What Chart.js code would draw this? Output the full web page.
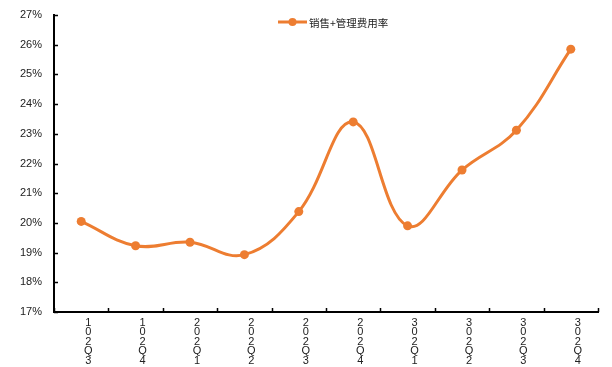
<!DOCTYPE html>
<html>
<head>
<meta charset="utf-8">
<script src="https://cdn.jsdelivr.net/npm/chart.js@4/dist/chart.umd.min.js"></script>
<style>
  body { margin: 0; background: #fff; }
  #wrap { width: 612px; height: 367px; }
</style>
</head>
<body>
<div id="wrap"><canvas id="rateChart" width="612" height="367"></canvas></div>
<script>
// quarter labels, one character per line
var quarters = [
    ['1', '0', '2', 'Q', '3'],
    ['1', '0', '2', 'Q', '4'],
    ['2', '0', '2', 'Q', '1'],
    ['2', '0', '2', 'Q', '2'],
    ['2', '0', '2', 'Q', '3'],
    ['2', '0', '2', 'Q', '4'],
    ['3', '0', '2', 'Q', '1'],
    ['3', '0', '2', 'Q', '2'],
    ['3', '0', '2', 'Q', '3'],
    ['3', '0', '2', 'Q', '4']
];
var expenseRate = [20.05, 19.23, 19.35, 18.93, 20.38, 23.4, 19.9, 21.78, 23.12, 25.85];
var seriesName = '销售+管理费用率';
var yMin = 17, yMax = 27, yStep = 1;

var lineColor = '#ED7D31';

// legend drawn inside the plot, centred near the top
var topLegend = {
    id: 'topLegend',
    afterDraw: function(chart) {
        var c = chart.ctx;
        var ds = chart.data.datasets[0];
        var x0 = 278, y0 = 22;
        c.save();
        c.strokeStyle = ds.borderColor;
        c.lineWidth = 3;
        c.beginPath();
        c.moveTo(x0, y0);
        c.lineTo(x0 + 29, y0);
        c.stroke();
        c.fillStyle = ds.borderColor;
        c.beginPath();
        c.arc(x0 + 14.5, y0, 4, 0, Math.PI * 2);
        c.fill();
        c.fillStyle = '#222';
        c.font = '10.5px "Noto Sans CJK SC"';
        c.textBaseline = 'middle';
        c.fillText(ds.label, x0 + 31, y0 + 1);
        c.restore();
    }
};

// small inward tick marks on both axes
var innerTicks = {
    id: 'innerTicks',
    afterDraw: function(chart) {
        var c = chart.ctx;
        var x = chart.scales.x, y = chart.scales.y;
        c.save();
        c.strokeStyle = '#000';
        c.lineWidth = 1.5;
        c.beginPath();
        y.ticks.forEach(function(t, i) {
            var py = Math.round(y.getPixelForTick(i)) + 0.5;
            c.moveTo(y.right, py);
            c.lineTo(y.right + 4, py);
        });
        var n = x.ticks.length;
        var half = (x.getPixelForTick(1) - x.getPixelForTick(0)) / 2;
        for (var i = 0; i <= n; i++) {
            var px = Math.round(x.getPixelForTick(Math.min(i, n - 1)) + (i < n ? -half : half)) + 0.5;
            c.moveTo(px, x.top);
            c.lineTo(px, x.top - 4);
        }
        c.stroke();
        c.restore();
    }
};

var ctx = document.getElementById('rateChart').getContext('2d');
var chart = new Chart(ctx, {
    type: 'line',
    data: {
        labels: quarters,
        datasets: [{
            label: seriesName,
            data: expenseRate,
            borderColor: lineColor,
            backgroundColor: lineColor,
            borderWidth: 3,
            pointRadius: 4.5,
            pointBorderWidth: 0,
            tension: 0.4
        }]
    },
    options: {
        responsive: false,
        animation: false,
        layout: { padding: { left: 0, right: 14, top: 15, bottom: 0 } },
        scales: {
            x: {
                offset: true,
                grid: { display: false },
                border: { color: '#000', width: 2 },
                ticks: {
                    color: '#222',
                    autoSkip: false,
                    maxRotation: 0,
                    padding: -2,
                    labelOffset: 7,
                    font: { family: 'Liberation Sans', size: 11, lineHeight: 0.86 }
                },
                afterFit: function(scale) { scale.height = 55; }
            },
            y: {
                min: yMin,
                max: yMax,
                grid: { display: false },
                border: { color: '#000', width: 2 },
                ticks: {
                    stepSize: yStep,
                    color: '#222',
                    padding: 4,
                    font: { family: 'Liberation Sans', size: 11 },
                    callback: function(v) { return v + '%'; }
                },
                afterFit: function(scale) { scale.width = 54; }
            }
        },
        plugins: {
            legend: { display: false },
            tooltip: { enabled: false }
        }
    },
    plugins: [innerTicks, topLegend]
});
</script>
</body>
</html>
